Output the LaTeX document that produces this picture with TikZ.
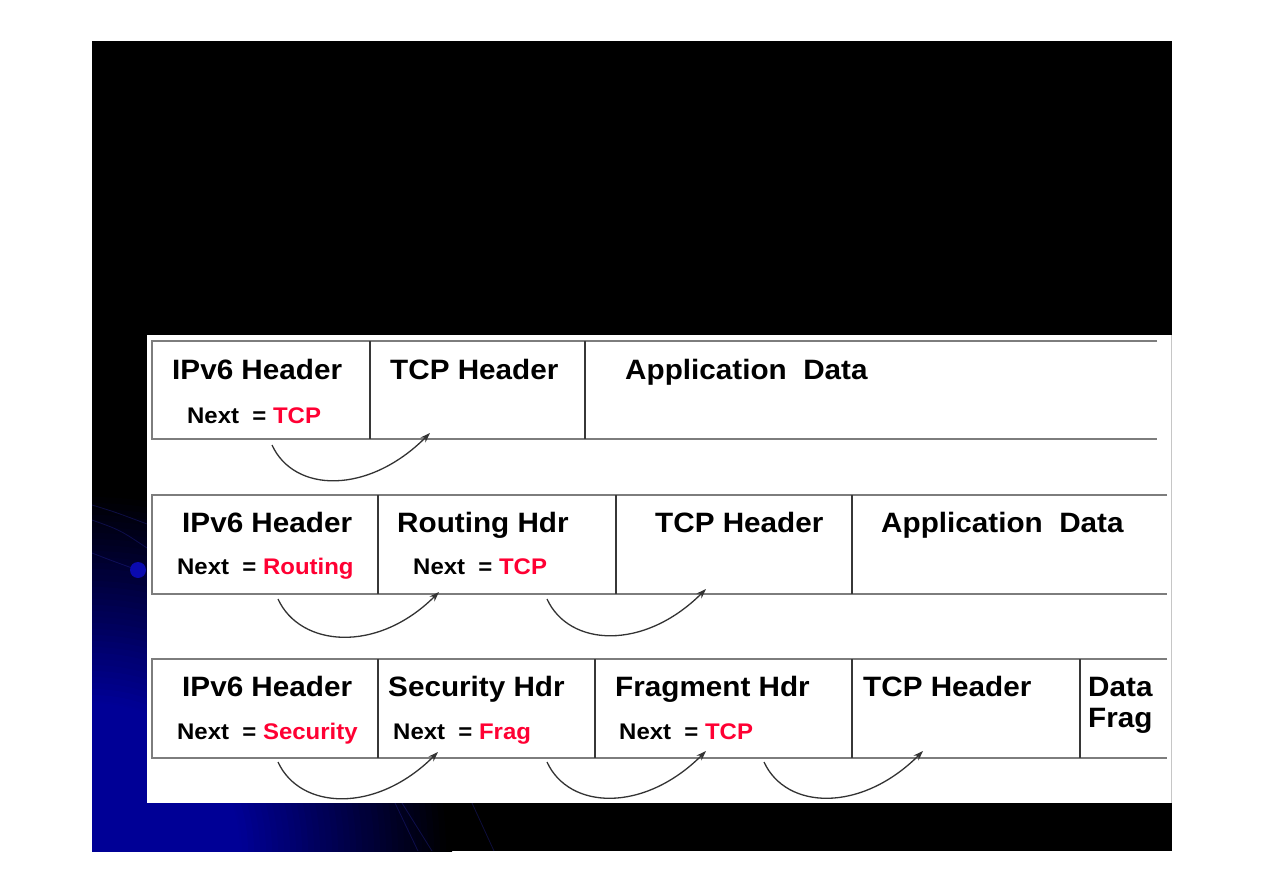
\documentclass[tikz,border=0pt]{standalone}
\usepackage{fontspec}
\setmainfont{Liberation Sans}[FakeStretch=1.06]
\usetikzlibrary{arrows.meta}
\definecolor{nxred}{RGB}{255,0,51}
\definecolor{slideblue}{RGB}{0,0,150}
\definecolor{dotblue}{RGB}{10,10,175}
\definecolor{hline}{RGB}{125,125,125}
\definecolor{vline}{RGB}{55,55,55}
\definecolor{streakc}{RGB}{40,40,170}
\tikzset{
  hdr/.style={anchor=base west, inner sep=0pt, font=\fontsize{28}{30}\selectfont\bfseries, text=black},
  nxt/.style={anchor=base west, inner sep=0pt, font=\fontsize{22.6}{25}\selectfont\bfseries, text=black},
  rowline/.style={draw=hline, line width=2.2pt},
  divline/.style={draw=vline, line width=1.8pt},
  nextarrow/.style={draw=black!80, line width=1.3pt, -{Stealth[length=10pt,width=7pt]}},
  streak/.style={draw=streakc, opacity=0.35, line width=0.8pt}
}
\newcommand{\rd}[1]{{\color{nxred}#1}}
\begin{document}
\begin{tikzpicture}[x=1pt,y=-1pt]
\useasboundingbox (0,0) rectangle (1263,893);
\fill[white] (0,0) rectangle (1263,893);
% slide background
\fill[black] (92,41) rectangle (1172,851);
\begin{scope}
  \clip (92,41) rectangle (1172,851);
  \foreach \r in {360,354,...,150} {
    \pgfmathtruncatemacro\p{(360-\r)/2.1}
    \fill[slideblue!\p!black] (92,851) circle (\r);
  }
  \fill[slideblue] (92,851) circle (148);
  \draw[streak] (92,505) .. controls (115,512) .. (147,524);
  \draw[streak] (92,520) .. controls (120,530) .. (147,548);
  \draw[streak] (92,553) .. controls (110,560) .. (132,568);
  \draw[streak] (395,803) -- (418,851);
  \draw[streak] (402,803) -- (432,851);
  \draw[streak] (472,803) -- (494,851);
\end{scope}
\fill[dotblue] (138,570) circle (8);
% white panel
\fill[white] (147,335) rectangle (1172,803);
\draw[gray!45, line width=1pt] (1171.5,335) -- (1171.5,803);

% ---------- Row 1 ----------
\draw[rowline] (1157,341) -- (152,341) -- (152,439) -- (1157,439);
\draw[divline] (370,341) -- (370,439);
\draw[divline] (585,341) -- (585,439);
\node[hdr] (r1ipv6) at (172,379) {IPv6 Header};
\node[nxt] (r1next) at (187,423) {Next\ \ = \rd{TCP}};
\node[hdr] (r1tcp) at (390,379) {TCP Header};
\node[hdr] (r1app) at (625,379) {Application\ \ Data};
\coordinate (r1as) at (272,445);
\coordinate (r1at) at (430,433);
\draw[nextarrow] (r1as) .. controls +(22,48) and +(-62,62) .. (r1at);

% ---------- Row 2 ----------
\draw[rowline] (1167,495) -- (152,495) -- (152,594) -- (1167,594);
\draw[divline] (378,495) -- (378,594);
\draw[divline] (616,495) -- (616,594);
\draw[divline] (852,495) -- (852,594);
\node[hdr] (r2ipv6) at (182,532) {IPv6 Header};
\node[nxt] (r2next) at (177,574) {Next\ \ = \rd{Routing}};
\node[hdr] (r2rout) at (397,532) {Routing Hdr};
\node[nxt] (r2rnext) at (413,574) {Next\ \ = \rd{TCP}};
\node[hdr] (r2tcp) at (655,532) {TCP Header};
\node[hdr] (r2app) at (881,532) {Application\ \ Data};
\coordinate (r2as) at (278,599);
\coordinate (r2at) at (439,592);
\coordinate (r2bs) at (547,599);
\coordinate (r2bt) at (706,589);
\draw[nextarrow] (r2as) .. controls +(22,48) and +(-62,62) .. (r2at);
\draw[nextarrow] (r2bs) .. controls +(22,48) and +(-62,62) .. (r2bt);

% ---------- Row 3 ----------
\draw[rowline] (1167,659) -- (152,659) -- (152,758) -- (1167,758);
\draw[divline] (378,659) -- (378,758);
\draw[divline] (595,659) -- (595,758);
\draw[divline] (852,659) -- (852,758);
\draw[divline] (1080,659) -- (1080,758);
\node[hdr] (r3ipv6) at (182,696) {IPv6 Header};
\node[nxt] (r3next) at (177,739) {Next\ \ = \rd{Security}};
\node[hdr] (r3sec) at (388,696) {Security Hdr};
\node[nxt] (r3snext) at (393,739) {Next\ \ = \rd{Frag}};
\node[hdr] (r3frag) at (615,696) {Fragment Hdr};
\node[nxt] (r3fnext) at (619,739) {Next\ \ = \rd{TCP}};
\node[hdr] (r3tcp) at (863,696) {TCP Header};
\node[hdr] (r3data) at (1088,696) {Data};
\node[hdr] (r3dfrag) at (1088,727) {Frag};
\coordinate (r3as) at (278,762);
\coordinate (r3at) at (438,752);
\coordinate (r3bs) at (547,762);
\coordinate (r3bt) at (706,751);
\coordinate (r3cs) at (764,762);
\coordinate (r3ct) at (923,751);
\draw[nextarrow] (r3as) .. controls +(22,48) and +(-62,62) .. (r3at);
\draw[nextarrow] (r3bs) .. controls +(22,48) and +(-62,62) .. (r3bt);
\draw[nextarrow] (r3cs) .. controls +(22,48) and +(-62,62) .. (r3ct);
\end{tikzpicture}
\end{document}
